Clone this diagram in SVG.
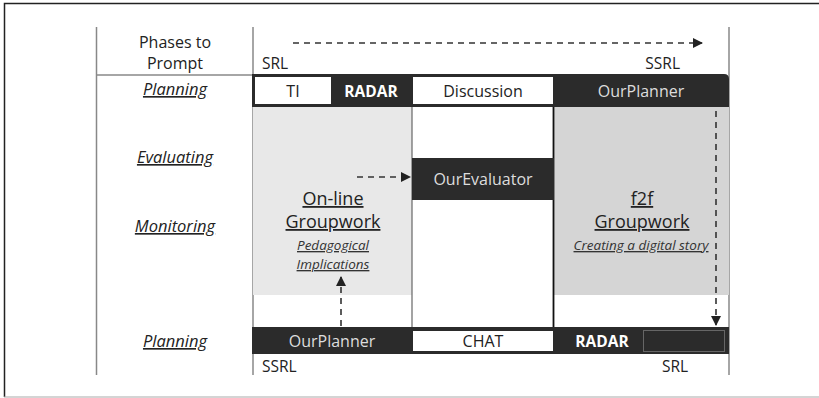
<svg xmlns="http://www.w3.org/2000/svg" width="819" height="398" viewBox="0 0 819 398">
<defs>
<style>
text{font-family:"Open Sans","Liberation Sans",sans-serif;}
.lbl{font-size:16px;fill:#222;text-anchor:middle;}
.ph{font-size:16.5px;fill:#222;text-anchor:middle;font-style:italic;text-decoration:underline;}
.dk{fill:#2b2b2b;}
.wt{fill:#fff;}
.wtxt{font-size:15.5px;fill:#fff;font-weight:bold;text-anchor:middle;}
.ltxt{font-size:16px;fill:#ddd;text-anchor:middle;}
.btxt{font-size:16px;fill:#222;text-anchor:middle;}
.big{font-size:18px;fill:#222;text-anchor:middle;text-decoration:underline;}
.sm{font-size:13.5px;fill:#333;text-anchor:middle;font-style:italic;text-decoration:underline;}
.srl{font-size:15.5px;fill:#222;}
.gl{stroke:#888;stroke-width:1.5;fill:none;}
.dash{stroke:#333;stroke-width:1.6;fill:none;stroke-dasharray:6,5;}
</style>
<marker id="ah" markerWidth="10" markerHeight="10" refX="9" refY="5" orient="auto" markerUnits="userSpaceOnUse">
<path d="M0,0 L10,5 L0,10 z" fill="#222"/>
</marker>
</defs>
<rect x="0" y="0" width="819" height="398" fill="#fff"/>
<path d="M819,3.5 H4.5 V397" stroke="#222" stroke-width="1.5" fill="none"/>
<line x1="4" y1="397" x2="819" y2="397" stroke="#aaa" stroke-width="1.2"/>

<g id="grid">
<line class="gl" x1="96.5" y1="27" x2="96.5" y2="375"/>
<line class="gl" x1="253" y1="27" x2="253" y2="375"/>
<line class="gl" x1="729" y1="27" x2="729" y2="375"/>
<line class="gl" x1="96" y1="75" x2="253" y2="75"/>
</g>

<g id="regions">
<rect x="253" y="107" width="159" height="188" fill="#e8e8e8"/>
<rect x="554" y="107" width="175" height="188" fill="#d5d5d5"/>
<line x1="412" y1="107" x2="412" y2="328" stroke="#666" stroke-width="1.2"/>
<line x1="553.5" y1="107" x2="553.5" y2="328" stroke="#111" stroke-width="1.8"/>
</g>

<g id="row-labels">
<text class="lbl" x="175" y="48">Phases to</text>
<text class="lbl" x="175" y="69">Prompt</text>
<text class="ph" x="175" y="95">Planning</text>
<text class="ph" x="175" y="163">Evaluating</text>
<text class="ph" x="175" y="232">Monitoring</text>
<text class="ph" x="175" y="347">Planning</text>
</g>

<g id="srl-labels">
<text class="srl" x="262" y="69">SRL</text>
<text class="srl" x="680" y="69" text-anchor="end">SSRL</text>
<text class="srl" x="262" y="372">SSRL</text>
<text class="srl" x="662" y="372">SRL</text>
</g>

<g id="top-bar">
<path class="dk" d="M252,74 H724 Q729,74 729,79 V107 H252 z"/>
<rect class="wt" x="255" y="77" width="76" height="27"/>
<text class="btxt" x="293" y="97">TI</text>
<text class="wtxt" x="371" y="97">RADAR</text>
<rect class="wt" x="413" y="77" width="140" height="27"/>
<text class="btxt" x="483" y="97">Discussion</text>
<text class="ltxt" x="641" y="97">OurPlanner</text>
</g>

<g id="evaluator">
<rect class="dk" x="412" y="158" width="142" height="42"/>
<text class="ltxt" x="483" y="185">OurEvaluator</text>
</g>

<g id="online">
<text class="big" x="333" y="205">On-line</text>
<text class="big" x="333" y="228">Groupwork</text>
<text class="sm" x="333" y="250">Pedagogical</text>
<text class="sm" x="333" y="269">Implications</text>
</g>

<g id="f2f">
<text class="big" x="642" y="205">f2f</text>
<text class="big" x="642" y="228"> Groupwork</text>
<text class="sm" x="641" y="250">Creating a digital story</text>
</g>

<g id="bottom-bar">
<rect class="dk" x="252" y="327" width="477" height="27"/>
<rect class="wt" x="413" y="331" width="140" height="20"/>
<text class="btxt" x="483" y="347">CHAT</text>
<text class="ltxt" x="332" y="347">OurPlanner</text>
<text class="wtxt" x="602" y="347">RADAR</text>
<rect x="643.5" y="330.5" width="81" height="21" fill="#2b2b2b" stroke="#666" stroke-width="1"/>
</g>

<g id="connectors">
<line class="dash" x1="293" y1="43" x2="702" y2="43" marker-end="url(#ah)"/>
<line class="dash" x1="357" y1="177" x2="410" y2="177" marker-end="url(#ah)"/>
<line class="dash" x1="341" y1="326" x2="341" y2="277" marker-end="url(#ah)"/>
<line class="dash" x1="716" y1="111" x2="716" y2="325" marker-end="url(#ah)"/>
</g>
</svg>
